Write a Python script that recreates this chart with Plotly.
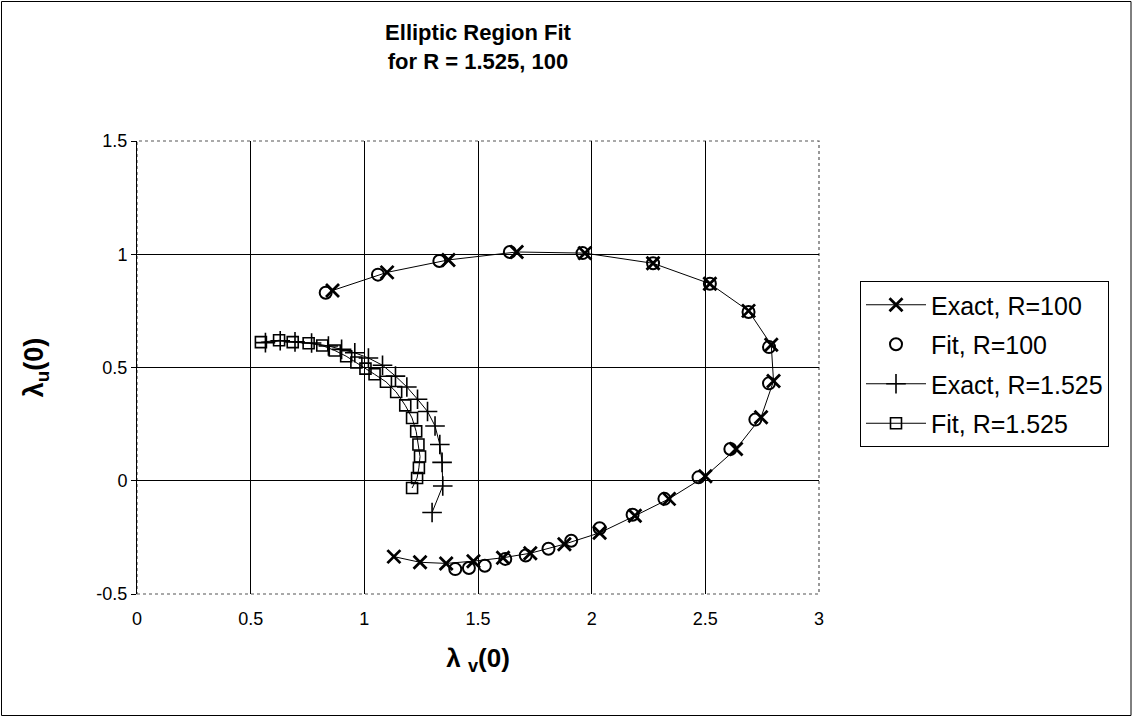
import plotly.graph_objects as go

# Exact, R=100
exact100_x = [0.86, 1.10, 1.37, 1.67, 1.97, 2.27, 2.52, 2.69, 2.79, 2.80, 2.745, 2.635, 2.50, 2.34, 2.19, 2.035, 1.88, 1.73, 1.61, 1.48, 1.36, 1.245, 1.13]
exact100_y = [0.84, 0.92, 0.975, 1.01, 1.005, 0.96, 0.87, 0.75, 0.60, 0.44, 0.28, 0.14, 0.02, -0.08, -0.155, -0.23, -0.28, -0.32, -0.34, -0.355, -0.365, -0.36, -0.335]

# Fit, R=100
fit100_x = [0.83, 1.06, 1.33, 1.64, 1.96, 2.27, 2.52, 2.69, 2.78, 2.78, 2.72, 2.61, 2.47, 2.32, 2.18, 2.035, 1.91, 1.81, 1.71, 1.62, 1.53, 1.46, 1.40]
fit100_y = [0.83, 0.91, 0.97, 1.01, 1.005, 0.96, 0.87, 0.745, 0.59, 0.43, 0.27, 0.14, 0.015, -0.08, -0.15, -0.21, -0.265, -0.30, -0.33, -0.345, -0.375, -0.385, -0.39]

# Exact, R=1.525
exact1525_x = [0.565, 0.630, 0.695, 0.768, 0.842, 0.900, 0.958, 1.018, 1.080, 1.137, 1.187, 1.234, 1.278, 1.311, 1.332, 1.342, 1.345, 1.298]
exact1525_y = [0.610, 0.618, 0.613, 0.608, 0.595, 0.580, 0.565, 0.542, 0.510, 0.462, 0.414, 0.360, 0.306, 0.242, 0.160, 0.081, -0.023, -0.140]

# Fit, R=1.525
fit1525_x = [0.545, 0.625, 0.685, 0.755, 0.815, 0.870, 0.920, 0.965, 1.005, 1.045, 1.095, 1.140, 1.180, 1.210, 1.228, 1.238, 1.245, 1.240, 1.232, 1.210]
fit1525_y = [0.612, 0.620, 0.612, 0.607, 0.597, 0.575, 0.550, 0.522, 0.495, 0.470, 0.437, 0.392, 0.333, 0.277, 0.218, 0.160, 0.107, 0.057, 0.012, -0.032]

x_ticks = [0, 0.5, 1, 1.5, 2, 2.5, 3]
x_tick_labels = ["0", "0.5", "1", "1.5", "2", "2.5", "3"]
y_ticks = [-0.5, 0, 0.5, 1, 1.5]
y_tick_labels = ["-0.5", "0", "0.5", "1", "1.5"]

FONT = "Liberation Sans, Arial, sans-serif"

fig = go.Figure()
fig.add_trace(go.Scatter(
    x=exact100_x, y=exact100_y, name="Exact, R=100", mode="lines+markers", legendgroup="a",
    line=dict(color="black", width=1),
    marker=dict(symbol="x-thin", size=13, color="black", line=dict(color="black", width=2.8)),
))
fig.add_trace(go.Scatter(
    x=fit100_x, y=fit100_y, name="Fit, R=100", mode="markers", legendgroup="b",
    marker=dict(symbol="circle-open", size=12, color="black", line=dict(color="black", width=2)),
))
fig.add_trace(go.Scatter(
    x=exact1525_x, y=exact1525_y, name="Exact, R=1.525", mode="lines+markers", legendgroup="c",
    line=dict(color="black", width=1),
    marker=dict(symbol="cross-thin", size=14, color="black", line=dict(color="black", width=1.6)),
))
fig.add_trace(go.Scatter(
    x=fit1525_x, y=fit1525_y, name="Fit, R=1.525", mode="lines+markers", legendgroup="d",
    line=dict(color="black", width=1),
    marker=dict(symbol="square-open", size=11, color="black", line=dict(color="black", width=1.6)),
))

W, H = 1133, 717
L, R, T, B = 137, 314, 141, 123
pw, ph = W - L - R, H - T - B

def px_to_paper_x(p):
    return (p - L) / pw

def px_to_paper_y(p):
    return (H - B - p) / ph

shapes = [
    dict(type="rect", xref="paper", yref="paper", x0=0, y0=0, x1=1, y1=1,
         line=dict(color="#555", width=1.2, dash="dot"), layer="below"),
    dict(type="rect", xref="paper", yref="paper",
         x0=px_to_paper_x(1.5), x1=px_to_paper_x(1131), y0=px_to_paper_y(715.5), y1=px_to_paper_y(1.5),
         line=dict(color="black", width=1)),
]

fig.update_layout(
    width=W, height=H,
    margin=dict(l=L, r=R, t=T, b=B, autoexpand=False),
    paper_bgcolor="white", plot_bgcolor="white",
    font=dict(family=FONT, color="black", size=17),
    title=dict(text="<b>Elliptic Region Fit<br>for R = 1.525, 100</b>",
               x=px_to_paper_x(478), xref="paper", xanchor="center",
               y=1 - 40 / H, yanchor="middle", font=dict(size=22, family=FONT)),
    xaxis=dict(range=[0, 3], tickvals=x_ticks, ticktext=x_tick_labels,
               showgrid=True, gridcolor="black", gridwidth=1, zeroline=False,
               showline=False, ticks="", tickfont=dict(size=18), ticklabelstandoff=12,
               title=dict(text="<b>λ <sub>v</sub>(0)</b>", font=dict(size=26), standoff=20)),
    yaxis=dict(range=[-0.5, 1.5], tickvals=y_ticks, ticktext=y_tick_labels,
               showgrid=True, gridcolor="black", gridwidth=1, zeroline=False,
               showline=True, linecolor="black", linewidth=1,
               ticks="outside", ticklen=5, tickcolor="black", tickfont=dict(size=18),
               title=dict(text="<b>λ<sub>u</sub>(0)</b>", font=dict(size=27), standoff=44)),
    legend=dict(x=px_to_paper_x(860), y=px_to_paper_y(281), xanchor="left", yanchor="top",
                bordercolor="black", borderwidth=1, bgcolor="white",
                font=dict(size=25, family=FONT), itemwidth=60, tracegroupgap=4),
    showlegend=True,
    shapes=shapes,
)

fig.write_html("out.html", config={"displayModeBar": False},
               post_script="document.body.style.margin='0';document.body.style.padding='0';")
